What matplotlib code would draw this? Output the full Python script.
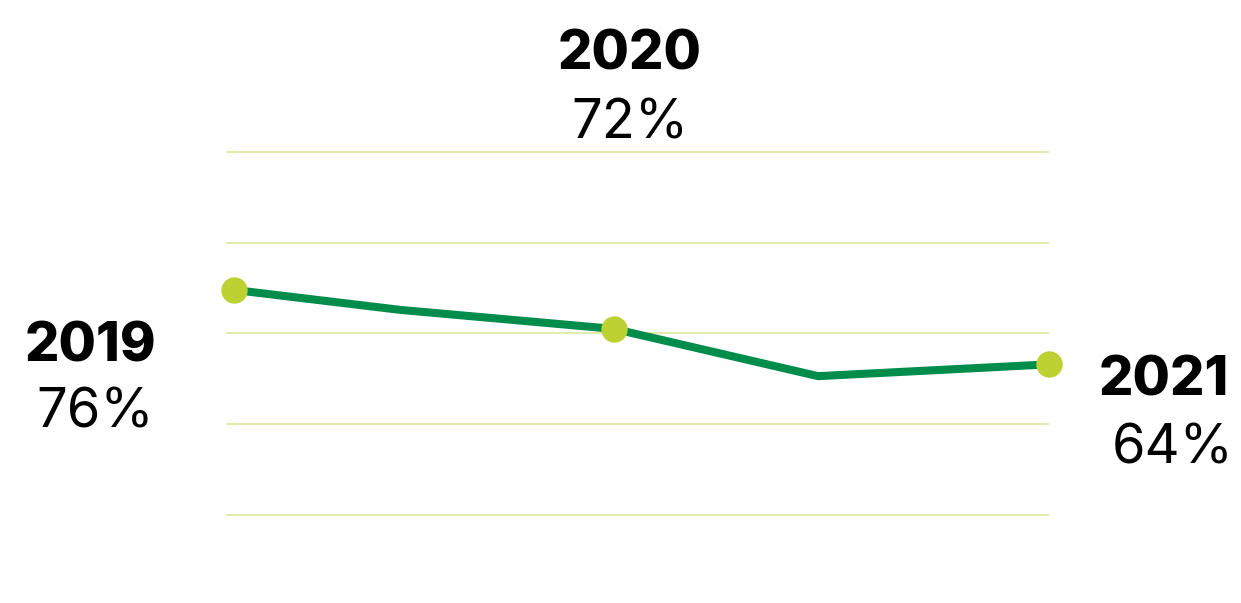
# Line chart with three highlighted years.
import matplotlib.pyplot as plt

# Data
months = [0, 4.9, 11.2, 17.2, 24]
values = [74.8, 72.6, 70.5, 65.3, 66.6]
marked = [0, 2, 4]
grid_levels = [50, 60, 70, 80, 90]
years = ['2019', '2020', '2021']
shares = ['76%', '72%', '64%']

LINE = '#008c4a'
DOT = '#bdd133'
GRID = '#dde89c'

W, H = 1241, 603


def main():
    fig = plt.figure(figsize=(W / 100, H / 100), dpi=100)
    fig.patch.set_facecolor('white')

    # axes placed in pixels: left 226, right 1049, top 152, bottom 515
    ax = fig.add_axes([226 / W, (H - 515) / H, (1049 - 226) / W, (515 - 152) / H])
    ax.set_xlim(-0.236, 24)
    ax.set_ylim(50, 90)
    ax.axis('off')

    ax.hlines(grid_levels, -0.236, 24, color=GRID, linewidth=1.2, clip_on=False, zorder=1)
    ax.plot(months, values, color=LINE, linewidth=5.8, solid_joinstyle='miter',
            clip_on=False, zorder=2)
    ax.plot([months[i] for i in marked], [values[i] for i in marked], 'o',
            color=DOT, markersize=19, markeredgewidth=0, clip_on=False, zorder=3)

    font = ['Inter', 'DejaVu Sans']
    # label positions in pixels (center x, baseline y)
    year_pos = [(90, 361), (630, 70), (1164, 396)]
    share_pos = [(95, 427), (630, 138), (1173, 464)]
    for year, (x, y) in zip(years, year_pos):
        fig.text(x / W, 1 - y / H, year, ha='center', va='baseline',
                 fontsize=39, fontweight='heavy', family=font)
    for share, (x, y) in zip(shares, share_pos):
        fig.text(x / W, 1 - y / H, share, ha='center', va='baseline',
                 fontsize=39, family=font)

    fig.savefig('out.png', dpi=100, facecolor='white')


if __name__ == '__main__':
    main()
